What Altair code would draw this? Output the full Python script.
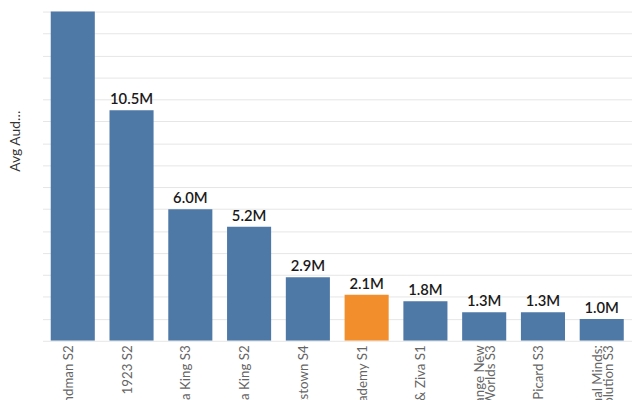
import altair as alt
import pandas as pd

shows = ["Landman S2", "1923 S2", "Tulsa King S3", "Tulsa King S2",
         "Mayor of Kingstown S4", "Starfleet Academy S1", "NCIS: Tony & Ziva S1",
         "Star Trek: Strange New|Worlds S3", "Star Trek: Picard S3",
         "Criminal Minds:|Evolution S3"]
audience = [17.0, 10.5, 6.0, 5.2, 2.9, 2.1, 1.8, 1.3, 1.3, 1.0]
group = ["base", "base", "base", "base", "base", "hl", "base", "base", "base", "base"]
grid_values = list(range(0, 16))

df = pd.DataFrame({"show": shows, "audience": audience, "group": group})

FONT = "Lato"

base = alt.Chart(df).encode(
    x=alt.X(
        "show:N", sort=None,
        scale=alt.Scale(paddingInner=0.25, paddingOuter=0.14),
        axis=alt.Axis(
            title=None, labelAngle=-90, labelExpr="split(datum.label, '|')",
            labelFont=FONT, labelFontSize=13.5, labelColor="#666666",
            labelPadding=4, ticks=False, domain=False, labelBaseline="middle",
            labelOffset=-4, labelLineHeight=11, labelLimit=400,
        ),
    ),
    y=alt.Y(
        "audience:Q",
        scale=alt.Scale(domain=[0, 15], nice=False),
        axis=alt.Axis(
            values=grid_values, labels=False, ticks=False, domain=False,
            grid=True, gridColor="#e6e6e6", gridWidth=1,
            title="Avg Audience (M)", titleFont=FONT, titleFontSize=14,
            titleColor="#333333", titleFontWeight="normal", titleLimit=63,
            titleX=-23, titleY=131, titleAlign="center",
            titleBaseline="alphabetic", titleAngle=-90,
        ),
    ),
)

bars = base.mark_bar(clip=True).encode(
    color=alt.Color(
        "group:N",
        scale=alt.Scale(domain=["base", "hl"], range=["#4e79a7", "#f28e2b"]),
        legend=None,
    ),
)

labels = base.mark_text(
    clip=True, baseline="alphabetic", dy=-6, font=FONT, fontSize=15,
    fontWeight=600, color="#1a1a1a",
).transform_calculate(
    txt="format(datum.audience, '.1f') + 'M'"
).encode(
    text="txt:N",
)

chart = alt.layer(bars, labels).properties(
    width=598, height=334,
    autosize=alt.AutoSizeParams(type="none"),
    padding={"left": 35, "top": 0, "right": 0, "bottom": 170},
    background="white",
).configure_view(stroke=None)

chart.save("out.html", embed_options={"renderer": "svg", "actions": False})
